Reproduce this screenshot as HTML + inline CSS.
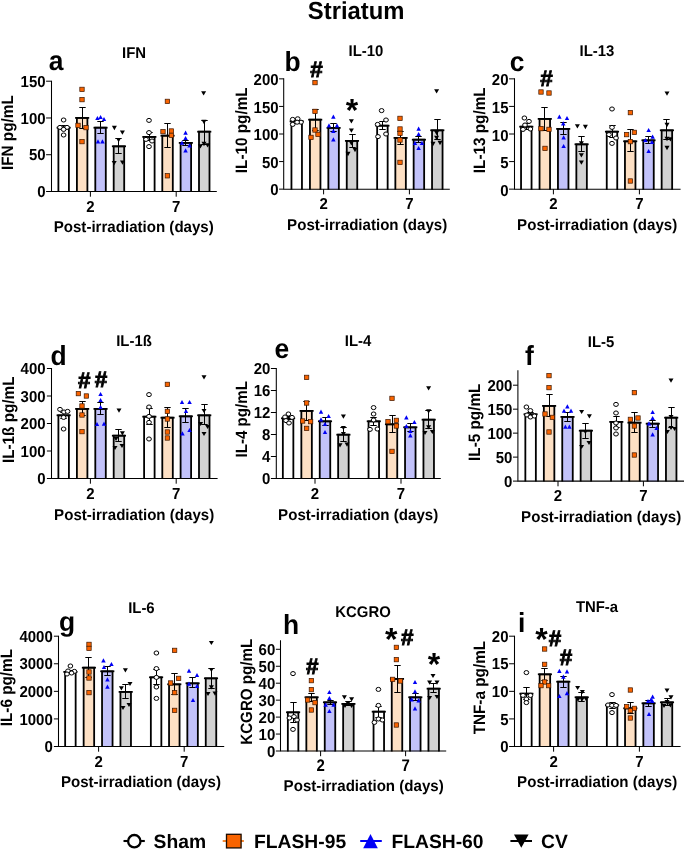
<!DOCTYPE html>
<html lang="en"><head><meta charset="utf-8"><title>Striatum cytokines</title>
<style>html,body{margin:0;padding:0;background:#fff}svg{display:block}</style></head>
<body>
<svg width="685" height="851" viewBox="0 0 685 851" font-family='&quot;Liberation Sans&quot;, sans-serif' font-weight="bold" fill="#000" text-rendering="geometricPrecision">
<rect width="685" height="851" fill="#fff"/>
<defs><filter id="soft" x="0" y="0" width="685" height="851" filterUnits="userSpaceOnUse"><feGaussianBlur stdDeviation="0.4"/></filter></defs>
<g id="bars" filter="url(#soft)">
<path d="M58.40 192.00V127.7H68.90V192.00" fill="#FFFFFF" stroke="#000" stroke-width="1.8"/>
<path d="M56.60 127.7H70.70" stroke="#000" stroke-width="1.75" fill="none"/>
<path d="M76.90 192.00V117.9H87.40V192.00" fill="#FDE0C4" stroke="#000" stroke-width="1.8"/>
<path d="M75.10 117.9H89.20" stroke="#000" stroke-width="1.75" fill="none"/>
<path d="M95.30 192.00V127.7H105.80V192.00" fill="#C2C2FA" stroke="#000" stroke-width="1.8"/>
<path d="M93.50 127.7H107.60" stroke="#000" stroke-width="1.75" fill="none"/>
<path d="M113.70 192.00V146.3H124.20V192.00" fill="#D2D2D2" stroke="#000" stroke-width="1.8"/>
<path d="M111.90 146.3H126.00" stroke="#000" stroke-width="1.75" fill="none"/>
<path d="M144.10 192.00V136.9H154.60V192.00" fill="#FFFFFF" stroke="#000" stroke-width="1.8"/>
<path d="M142.30 136.9H156.40" stroke="#000" stroke-width="1.75" fill="none"/>
<path d="M162.30 192.00V135.7H172.80V192.00" fill="#FDE0C4" stroke="#000" stroke-width="1.8"/>
<path d="M160.50 135.7H174.60" stroke="#000" stroke-width="1.75" fill="none"/>
<path d="M180.60 192.00V142.9H191.10V192.00" fill="#C2C2FA" stroke="#000" stroke-width="1.8"/>
<path d="M178.80 142.9H192.90" stroke="#000" stroke-width="1.75" fill="none"/>
<path d="M199.00 192.00V131.7H209.50V192.00" fill="#D2D2D2" stroke="#000" stroke-width="1.8"/>
<path d="M197.20 131.7H211.30" stroke="#000" stroke-width="1.75" fill="none"/>
<path d="M291.45 189.65V121.3H301.95V189.65" fill="#FFFFFF" stroke="#000" stroke-width="1.8"/>
<path d="M289.65 121.3H303.75" stroke="#000" stroke-width="1.75" fill="none"/>
<path d="M309.95 189.65V119.7H320.45V189.65" fill="#FDE0C4" stroke="#000" stroke-width="1.8"/>
<path d="M308.15 119.7H322.25" stroke="#000" stroke-width="1.75" fill="none"/>
<path d="M328.35 189.65V127.9H338.85V189.65" fill="#C2C2FA" stroke="#000" stroke-width="1.8"/>
<path d="M326.55 127.9H340.65" stroke="#000" stroke-width="1.75" fill="none"/>
<path d="M346.75 189.65V140.9H357.25V189.65" fill="#D2D2D2" stroke="#000" stroke-width="1.8"/>
<path d="M344.95 140.9H359.05" stroke="#000" stroke-width="1.75" fill="none"/>
<path d="M377.15 189.65V125.7H387.65V189.65" fill="#FFFFFF" stroke="#000" stroke-width="1.8"/>
<path d="M375.35 125.7H389.45" stroke="#000" stroke-width="1.75" fill="none"/>
<path d="M395.35 189.65V137.9H405.85V189.65" fill="#FDE0C4" stroke="#000" stroke-width="1.8"/>
<path d="M393.55 137.9H407.65" stroke="#000" stroke-width="1.75" fill="none"/>
<path d="M413.65 189.65V139.7H424.15V189.65" fill="#C2C2FA" stroke="#000" stroke-width="1.8"/>
<path d="M411.85 139.7H425.95" stroke="#000" stroke-width="1.75" fill="none"/>
<path d="M432.05 189.65V130.3H442.55V189.65" fill="#D2D2D2" stroke="#000" stroke-width="1.8"/>
<path d="M430.25 130.3H444.35" stroke="#000" stroke-width="1.75" fill="none"/>
<path d="M521.05 189.65V126.7H531.55V189.65" fill="#FFFFFF" stroke="#000" stroke-width="1.8"/>
<path d="M519.25 126.7H533.35" stroke="#000" stroke-width="1.75" fill="none"/>
<path d="M539.55 189.65V118.9H550.05V189.65" fill="#FDE0C4" stroke="#000" stroke-width="1.8"/>
<path d="M537.75 118.9H551.85" stroke="#000" stroke-width="1.75" fill="none"/>
<path d="M557.95 189.65V128.9H568.45V189.65" fill="#C2C2FA" stroke="#000" stroke-width="1.8"/>
<path d="M556.15 128.9H570.25" stroke="#000" stroke-width="1.75" fill="none"/>
<path d="M576.35 189.65V144.3H586.85V189.65" fill="#D2D2D2" stroke="#000" stroke-width="1.8"/>
<path d="M574.55 144.3H588.65" stroke="#000" stroke-width="1.75" fill="none"/>
<path d="M606.75 189.65V131.7H617.25V189.65" fill="#FFFFFF" stroke="#000" stroke-width="1.8"/>
<path d="M604.95 131.7H619.05" stroke="#000" stroke-width="1.75" fill="none"/>
<path d="M624.95 189.65V141.3H635.45V189.65" fill="#FDE0C4" stroke="#000" stroke-width="1.8"/>
<path d="M623.15 141.3H637.25" stroke="#000" stroke-width="1.75" fill="none"/>
<path d="M643.25 189.65V140.3H653.75V189.65" fill="#C2C2FA" stroke="#000" stroke-width="1.8"/>
<path d="M641.45 140.3H655.55" stroke="#000" stroke-width="1.75" fill="none"/>
<path d="M661.65 189.65V130.3H672.15V189.65" fill="#D2D2D2" stroke="#000" stroke-width="1.8"/>
<path d="M659.85 130.3H673.95" stroke="#000" stroke-width="1.75" fill="none"/>
<path d="M58.40 479.00V415.3H68.90V479.00" fill="#FFFFFF" stroke="#000" stroke-width="1.8"/>
<path d="M56.60 415.3H70.70" stroke="#000" stroke-width="1.75" fill="none"/>
<path d="M76.90 479.00V408.9H87.40V479.00" fill="#FDE0C4" stroke="#000" stroke-width="1.8"/>
<path d="M75.10 408.9H89.20" stroke="#000" stroke-width="1.75" fill="none"/>
<path d="M95.30 479.00V408.9H105.80V479.00" fill="#C2C2FA" stroke="#000" stroke-width="1.8"/>
<path d="M93.50 408.9H107.60" stroke="#000" stroke-width="1.75" fill="none"/>
<path d="M113.70 479.00V435.7H124.20V479.00" fill="#D2D2D2" stroke="#000" stroke-width="1.8"/>
<path d="M111.90 435.7H126.00" stroke="#000" stroke-width="1.75" fill="none"/>
<path d="M144.10 479.00V416.7H154.60V479.00" fill="#FFFFFF" stroke="#000" stroke-width="1.8"/>
<path d="M142.30 416.7H156.40" stroke="#000" stroke-width="1.75" fill="none"/>
<path d="M162.30 479.00V417.7H172.80V479.00" fill="#FDE0C4" stroke="#000" stroke-width="1.8"/>
<path d="M160.50 417.7H174.60" stroke="#000" stroke-width="1.75" fill="none"/>
<path d="M180.60 479.00V416.3H191.10V479.00" fill="#C2C2FA" stroke="#000" stroke-width="1.8"/>
<path d="M178.80 416.3H192.90" stroke="#000" stroke-width="1.75" fill="none"/>
<path d="M199.00 479.00V415.3H209.50V479.00" fill="#D2D2D2" stroke="#000" stroke-width="1.8"/>
<path d="M197.20 415.3H211.30" stroke="#000" stroke-width="1.75" fill="none"/>
<path d="M282.85 479.00V418.3H293.35V479.00" fill="#FFFFFF" stroke="#000" stroke-width="1.8"/>
<path d="M281.05 418.3H295.15" stroke="#000" stroke-width="1.75" fill="none"/>
<path d="M301.35 479.00V410.9H311.85V479.00" fill="#FDE0C4" stroke="#000" stroke-width="1.8"/>
<path d="M299.55 410.9H313.65" stroke="#000" stroke-width="1.75" fill="none"/>
<path d="M319.75 479.00V421.3H330.25V479.00" fill="#C2C2FA" stroke="#000" stroke-width="1.8"/>
<path d="M317.95 421.3H332.05" stroke="#000" stroke-width="1.75" fill="none"/>
<path d="M338.15 479.00V434.7H348.65V479.00" fill="#D2D2D2" stroke="#000" stroke-width="1.8"/>
<path d="M336.35 434.7H350.45" stroke="#000" stroke-width="1.75" fill="none"/>
<path d="M368.55 479.00V421.3H379.05V479.00" fill="#FFFFFF" stroke="#000" stroke-width="1.8"/>
<path d="M366.75 421.3H380.85" stroke="#000" stroke-width="1.75" fill="none"/>
<path d="M386.75 479.00V424.3H397.25V479.00" fill="#FDE0C4" stroke="#000" stroke-width="1.8"/>
<path d="M384.95 424.3H399.05" stroke="#000" stroke-width="1.75" fill="none"/>
<path d="M405.05 479.00V427.3H415.55V479.00" fill="#C2C2FA" stroke="#000" stroke-width="1.8"/>
<path d="M403.25 427.3H417.35" stroke="#000" stroke-width="1.75" fill="none"/>
<path d="M423.45 479.00V419.7H433.95V479.00" fill="#D2D2D2" stroke="#000" stroke-width="1.8"/>
<path d="M421.65 419.7H435.75" stroke="#000" stroke-width="1.75" fill="none"/>
<path d="M525.35 481.60V414.3H535.85V481.60" fill="#FFFFFF" stroke="#000" stroke-width="1.8"/>
<path d="M523.55 414.3H537.65" stroke="#000" stroke-width="1.75" fill="none"/>
<path d="M543.85 481.60V405.9H554.35V481.60" fill="#FDE0C4" stroke="#000" stroke-width="1.8"/>
<path d="M542.05 405.9H556.15" stroke="#000" stroke-width="1.75" fill="none"/>
<path d="M562.25 481.60V416.9H572.75V481.60" fill="#C2C2FA" stroke="#000" stroke-width="1.8"/>
<path d="M560.45 416.9H574.55" stroke="#000" stroke-width="1.75" fill="none"/>
<path d="M580.65 481.60V430.7H591.15V481.60" fill="#D2D2D2" stroke="#000" stroke-width="1.8"/>
<path d="M578.85 430.7H592.95" stroke="#000" stroke-width="1.75" fill="none"/>
<path d="M611.05 481.60V421.9H621.55V481.60" fill="#FFFFFF" stroke="#000" stroke-width="1.8"/>
<path d="M609.25 421.9H623.35" stroke="#000" stroke-width="1.75" fill="none"/>
<path d="M629.25 481.60V422.7H639.75V481.60" fill="#FDE0C4" stroke="#000" stroke-width="1.8"/>
<path d="M627.45 422.7H641.55" stroke="#000" stroke-width="1.75" fill="none"/>
<path d="M647.55 481.60V423.7H658.05V481.60" fill="#C2C2FA" stroke="#000" stroke-width="1.8"/>
<path d="M645.75 423.7H659.85" stroke="#000" stroke-width="1.75" fill="none"/>
<path d="M665.95 481.60V417.7H676.45V481.60" fill="#D2D2D2" stroke="#000" stroke-width="1.8"/>
<path d="M664.15 417.7H678.25" stroke="#000" stroke-width="1.75" fill="none"/>
<path d="M65.15 747.00V671.9H75.65V747.00" fill="#FFFFFF" stroke="#000" stroke-width="1.8"/>
<path d="M63.35 671.9H77.45" stroke="#000" stroke-width="1.75" fill="none"/>
<path d="M83.65 747.00V667.7H94.15V747.00" fill="#FDE0C4" stroke="#000" stroke-width="1.8"/>
<path d="M81.85 667.7H95.95" stroke="#000" stroke-width="1.75" fill="none"/>
<path d="M102.05 747.00V671.3H112.55V747.00" fill="#C2C2FA" stroke="#000" stroke-width="1.8"/>
<path d="M100.25 671.3H114.35" stroke="#000" stroke-width="1.75" fill="none"/>
<path d="M120.45 747.00V691.9H130.95V747.00" fill="#D2D2D2" stroke="#000" stroke-width="1.8"/>
<path d="M118.65 691.9H132.75" stroke="#000" stroke-width="1.75" fill="none"/>
<path d="M150.85 747.00V677.3H161.35V747.00" fill="#FFFFFF" stroke="#000" stroke-width="1.8"/>
<path d="M149.05 677.3H163.15" stroke="#000" stroke-width="1.75" fill="none"/>
<path d="M169.05 747.00V684.3H179.55V747.00" fill="#FDE0C4" stroke="#000" stroke-width="1.8"/>
<path d="M167.25 684.3H181.35" stroke="#000" stroke-width="1.75" fill="none"/>
<path d="M187.35 747.00V683.3H197.85V747.00" fill="#C2C2FA" stroke="#000" stroke-width="1.8"/>
<path d="M185.55 683.3H199.65" stroke="#000" stroke-width="1.75" fill="none"/>
<path d="M205.75 747.00V678.3H216.25V747.00" fill="#D2D2D2" stroke="#000" stroke-width="1.8"/>
<path d="M203.95 678.3H218.05" stroke="#000" stroke-width="1.75" fill="none"/>
<path d="M287.85 751.50V712.3H298.35V751.50" fill="#FFFFFF" stroke="#000" stroke-width="1.8"/>
<path d="M286.05 712.3H300.15" stroke="#000" stroke-width="1.75" fill="none"/>
<path d="M306.35 751.50V697.3H316.85V751.50" fill="#FDE0C4" stroke="#000" stroke-width="1.8"/>
<path d="M304.55 697.3H318.65" stroke="#000" stroke-width="1.75" fill="none"/>
<path d="M324.75 751.50V702.3H335.25V751.50" fill="#C2C2FA" stroke="#000" stroke-width="1.8"/>
<path d="M322.95 702.3H337.05" stroke="#000" stroke-width="1.75" fill="none"/>
<path d="M343.15 751.50V703.9H353.65V751.50" fill="#D2D2D2" stroke="#000" stroke-width="1.8"/>
<path d="M341.35 703.9H355.45" stroke="#000" stroke-width="1.75" fill="none"/>
<path d="M373.55 751.50V711.7H384.05V751.50" fill="#FFFFFF" stroke="#000" stroke-width="1.8"/>
<path d="M371.75 711.7H385.85" stroke="#000" stroke-width="1.75" fill="none"/>
<path d="M391.75 751.50V678.9H402.25V751.50" fill="#FDE0C4" stroke="#000" stroke-width="1.8"/>
<path d="M389.95 678.9H404.05" stroke="#000" stroke-width="1.75" fill="none"/>
<path d="M410.05 751.50V697.3H420.55V751.50" fill="#C2C2FA" stroke="#000" stroke-width="1.8"/>
<path d="M408.25 697.3H422.35" stroke="#000" stroke-width="1.75" fill="none"/>
<path d="M428.45 751.50V688.7H438.95V751.50" fill="#D2D2D2" stroke="#000" stroke-width="1.8"/>
<path d="M426.65 688.7H440.75" stroke="#000" stroke-width="1.75" fill="none"/>
<path d="M521.15 747.00V693.7H531.65V747.00" fill="#FFFFFF" stroke="#000" stroke-width="1.8"/>
<path d="M519.35 693.7H533.45" stroke="#000" stroke-width="1.75" fill="none"/>
<path d="M539.65 747.00V674.3H550.15V747.00" fill="#FDE0C4" stroke="#000" stroke-width="1.8"/>
<path d="M537.85 674.3H551.95" stroke="#000" stroke-width="1.75" fill="none"/>
<path d="M558.05 747.00V681.7H568.55V747.00" fill="#C2C2FA" stroke="#000" stroke-width="1.8"/>
<path d="M556.25 681.7H570.35" stroke="#000" stroke-width="1.75" fill="none"/>
<path d="M576.45 747.00V697.3H586.95V747.00" fill="#D2D2D2" stroke="#000" stroke-width="1.8"/>
<path d="M574.65 697.3H588.75" stroke="#000" stroke-width="1.75" fill="none"/>
<path d="M606.85 747.00V705.3H617.35V747.00" fill="#FFFFFF" stroke="#000" stroke-width="1.8"/>
<path d="M605.05 705.3H619.15" stroke="#000" stroke-width="1.75" fill="none"/>
<path d="M625.05 747.00V708.3H635.55V747.00" fill="#FDE0C4" stroke="#000" stroke-width="1.8"/>
<path d="M623.25 708.3H637.35" stroke="#000" stroke-width="1.75" fill="none"/>
<path d="M643.35 747.00V703.3H653.85V747.00" fill="#C2C2FA" stroke="#000" stroke-width="1.8"/>
<path d="M641.55 703.3H655.65" stroke="#000" stroke-width="1.75" fill="none"/>
<path d="M661.75 747.00V702.3H672.25V747.00" fill="#D2D2D2" stroke="#000" stroke-width="1.8"/>
<path d="M659.95 702.3H674.05" stroke="#000" stroke-width="1.75" fill="none"/>
</g>
<g id="errorbars">
<path d="M63.5 125.5V129.5M60.3 125.5h6.4M60.3 129.5h6.4" stroke="#000" stroke-width="1" fill="none"/>
<path d="M82.5 107.5V128.5M79.3 107.5h6.4M79.3 128.5h6.4" stroke="#000" stroke-width="1" fill="none"/>
<path d="M100.5 121.5V133.5M97.3 121.5h6.4M97.3 133.5h6.4" stroke="#000" stroke-width="1" fill="none"/>
<path d="M118.5 138.5V153.5M115.3 138.5h6.4M115.3 153.5h6.4" stroke="#000" stroke-width="1" fill="none"/>
<path d="M149.5 132.5V140.5M146.3 132.5h6.4M146.3 140.5h6.4" stroke="#000" stroke-width="1" fill="none"/>
<path d="M167.5 123.5V147.5M164.3 123.5h6.4M164.3 147.5h6.4" stroke="#000" stroke-width="1" fill="none"/>
<path d="M185.5 140.5V145.5M182.3 140.5h6.4M182.3 145.5h6.4" stroke="#000" stroke-width="1" fill="none"/>
<path d="M204.5 120.5V144.5M201.3 120.5h6.4M201.3 144.5h6.4" stroke="#000" stroke-width="1" fill="none"/>
<path d="M296.5 119.5V123.5M293.3 119.5h6.4M293.3 123.5h6.4" stroke="#000" stroke-width="1" fill="none"/>
<path d="M315.5 109.5V130.5M312.3 109.5h6.4M312.3 130.5h6.4" stroke="#000" stroke-width="1" fill="none"/>
<path d="M333.5 123.5V131.5M330.3 123.5h6.4M330.3 131.5h6.4" stroke="#000" stroke-width="1" fill="none"/>
<path d="M352.5 134.5V147.5M349.3 134.5h6.4M349.3 147.5h6.4" stroke="#000" stroke-width="1" fill="none"/>
<path d="M382.5 121.5V129.5M379.3 121.5h6.4M379.3 129.5h6.4" stroke="#000" stroke-width="1" fill="none"/>
<path d="M400.5 131.5V144.5M397.3 131.5h6.4M397.3 144.5h6.4" stroke="#000" stroke-width="1" fill="none"/>
<path d="M418.5 136.5V142.5M415.3 136.5h6.4M415.3 142.5h6.4" stroke="#000" stroke-width="1" fill="none"/>
<path d="M437.5 119.5V139.5M434.3 119.5h6.4M434.3 139.5h6.4" stroke="#000" stroke-width="1" fill="none"/>
<path d="M526.5 123.5V129.5M523.3 123.5h6.4M523.3 129.5h6.4" stroke="#000" stroke-width="1" fill="none"/>
<path d="M544.5 107.5V130.5M541.3 107.5h6.4M541.3 130.5h6.4" stroke="#000" stroke-width="1" fill="none"/>
<path d="M563.5 122.5V134.5M560.3 122.5h6.4M560.3 134.5h6.4" stroke="#000" stroke-width="1" fill="none"/>
<path d="M581.5 136.5V151.5M578.3 136.5h6.4M578.3 151.5h6.4" stroke="#000" stroke-width="1" fill="none"/>
<path d="M612.5 125.5V137.5M609.3 125.5h6.4M609.3 137.5h6.4" stroke="#000" stroke-width="1" fill="none"/>
<path d="M630.5 129.5V151.5M627.3 129.5h6.4M627.3 151.5h6.4" stroke="#000" stroke-width="1" fill="none"/>
<path d="M648.5 136.5V143.5M645.3 136.5h6.4M645.3 143.5h6.4" stroke="#000" stroke-width="1" fill="none"/>
<path d="M666.5 119.5V139.5M663.3 119.5h6.4M663.3 139.5h6.4" stroke="#000" stroke-width="1" fill="none"/>
<path d="M63.5 412.5V418.5M60.3 412.5h6.4M60.3 418.5h6.4" stroke="#000" stroke-width="1" fill="none"/>
<path d="M82.5 401.5V415.5M79.3 401.5h6.4M79.3 415.5h6.4" stroke="#000" stroke-width="1" fill="none"/>
<path d="M100.5 402.5V414.5M97.3 402.5h6.4M97.3 414.5h6.4" stroke="#000" stroke-width="1" fill="none"/>
<path d="M118.5 429.5V441.5M115.3 429.5h6.4M115.3 441.5h6.4" stroke="#000" stroke-width="1" fill="none"/>
<path d="M149.5 408.5V424.5M146.3 408.5h6.4M146.3 424.5h6.4" stroke="#000" stroke-width="1" fill="none"/>
<path d="M167.5 407.5V427.5M164.3 407.5h6.4M164.3 427.5h6.4" stroke="#000" stroke-width="1" fill="none"/>
<path d="M185.5 408.5V422.5M182.3 408.5h6.4M182.3 422.5h6.4" stroke="#000" stroke-width="1" fill="none"/>
<path d="M204.5 404.5V424.5M201.3 404.5h6.4M201.3 424.5h6.4" stroke="#000" stroke-width="1" fill="none"/>
<path d="M288.5 416.5V419.5M285.3 416.5h6.4M285.3 419.5h6.4" stroke="#000" stroke-width="1" fill="none"/>
<path d="M306.5 401.5V420.5M303.3 401.5h6.4M303.3 420.5h6.4" stroke="#000" stroke-width="1" fill="none"/>
<path d="M325.5 417.5V425.5M322.3 417.5h6.4M322.3 425.5h6.4" stroke="#000" stroke-width="1" fill="none"/>
<path d="M343.5 427.5V441.5M340.3 427.5h6.4M340.3 441.5h6.4" stroke="#000" stroke-width="1" fill="none"/>
<path d="M373.5 417.5V425.5M370.3 417.5h6.4M370.3 425.5h6.4" stroke="#000" stroke-width="1" fill="none"/>
<path d="M392.5 415.5V432.5M389.3 415.5h6.4M389.3 432.5h6.4" stroke="#000" stroke-width="1" fill="none"/>
<path d="M410.5 423.5V431.5M407.3 423.5h6.4M407.3 431.5h6.4" stroke="#000" stroke-width="1" fill="none"/>
<path d="M428.5 410.5V428.5M425.3 410.5h6.4M425.3 428.5h6.4" stroke="#000" stroke-width="1" fill="none"/>
<path d="M530.5 412.5V416.5M527.3 412.5h6.4M527.3 416.5h6.4" stroke="#000" stroke-width="1" fill="none"/>
<path d="M549.5 394.5V416.5M546.3 394.5h6.4M546.3 416.5h6.4" stroke="#000" stroke-width="1" fill="none"/>
<path d="M567.5 412.5V421.5M564.3 412.5h6.4M564.3 421.5h6.4" stroke="#000" stroke-width="1" fill="none"/>
<path d="M585.5 423.5V438.5M582.3 423.5h6.4M582.3 438.5h6.4" stroke="#000" stroke-width="1" fill="none"/>
<path d="M616.5 416.5V427.5M613.3 416.5h6.4M613.3 427.5h6.4" stroke="#000" stroke-width="1" fill="none"/>
<path d="M634.5 412.5V432.5M631.3 412.5h6.4M631.3 432.5h6.4" stroke="#000" stroke-width="1" fill="none"/>
<path d="M652.5 420.5V427.5M649.3 420.5h6.4M649.3 427.5h6.4" stroke="#000" stroke-width="1" fill="none"/>
<path d="M671.5 407.5V427.5M668.3 407.5h6.4M668.3 427.5h6.4" stroke="#000" stroke-width="1" fill="none"/>
<path d="M70.5 670.5V673.5M67.3 670.5h6.4M67.3 673.5h6.4" stroke="#000" stroke-width="1" fill="none"/>
<path d="M88.5 657.5V677.5M85.3 657.5h6.4M85.3 677.5h6.4" stroke="#000" stroke-width="1" fill="none"/>
<path d="M107.5 666.5V675.5M104.3 666.5h6.4M104.3 675.5h6.4" stroke="#000" stroke-width="1" fill="none"/>
<path d="M125.5 684.5V698.5M122.3 684.5h6.4M122.3 698.5h6.4" stroke="#000" stroke-width="1" fill="none"/>
<path d="M156.5 669.5V684.5M153.3 669.5h6.4M153.3 684.5h6.4" stroke="#000" stroke-width="1" fill="none"/>
<path d="M174.5 673.5V694.5M171.3 673.5h6.4M171.3 694.5h6.4" stroke="#000" stroke-width="1" fill="none"/>
<path d="M192.5 677.5V687.5M189.3 677.5h6.4M189.3 687.5h6.4" stroke="#000" stroke-width="1" fill="none"/>
<path d="M211.5 668.5V688.5M208.3 668.5h6.4M208.3 688.5h6.4" stroke="#000" stroke-width="1" fill="none"/>
<path d="M293.5 702.5V722.5M290.3 702.5h6.4M290.3 722.5h6.4" stroke="#000" stroke-width="1" fill="none"/>
<path d="M311.5 693.5V701.5M308.3 693.5h6.4M308.3 701.5h6.4" stroke="#000" stroke-width="1" fill="none"/>
<path d="M330.5 700.5V704.5M327.3 700.5h6.4M327.3 704.5h6.4" stroke="#000" stroke-width="1" fill="none"/>
<path d="M348.5 701.5V705.5M345.3 701.5h6.4M345.3 705.5h6.4" stroke="#000" stroke-width="1" fill="none"/>
<path d="M378.5 706.5V717.5M375.3 706.5h6.4M375.3 717.5h6.4" stroke="#000" stroke-width="1" fill="none"/>
<path d="M397.5 665.5V692.5M394.3 665.5h6.4M394.3 692.5h6.4" stroke="#000" stroke-width="1" fill="none"/>
<path d="M415.5 693.5V700.5M412.3 693.5h6.4M412.3 700.5h6.4" stroke="#000" stroke-width="1" fill="none"/>
<path d="M433.5 683.5V692.5M430.3 683.5h6.4M430.3 692.5h6.4" stroke="#000" stroke-width="1" fill="none"/>
<path d="M526.5 687.5V699.5M523.3 687.5h6.4M523.3 699.5h6.4" stroke="#000" stroke-width="1" fill="none"/>
<path d="M544.5 668.5V680.5M541.3 668.5h6.4M541.3 680.5h6.4" stroke="#000" stroke-width="1" fill="none"/>
<path d="M563.5 676.5V687.5M560.3 676.5h6.4M560.3 687.5h6.4" stroke="#000" stroke-width="1" fill="none"/>
<path d="M581.5 692.5V701.5M578.3 692.5h6.4M578.3 701.5h6.4" stroke="#000" stroke-width="1" fill="none"/>
<path d="M612.5 702.5V708.5M609.3 702.5h6.4M609.3 708.5h6.4" stroke="#000" stroke-width="1" fill="none"/>
<path d="M630.5 702.5V713.5M627.3 702.5h6.4M627.3 713.5h6.4" stroke="#000" stroke-width="1" fill="none"/>
<path d="M648.5 700.5V706.5M645.3 700.5h6.4M645.3 706.5h6.4" stroke="#000" stroke-width="1" fill="none"/>
<path d="M667.5 698.5V705.5M664.3 698.5h6.4M664.3 705.5h6.4" stroke="#000" stroke-width="1" fill="none"/>
</g>
<g filter="url(#soft)">
<text transform="translate(356.20 18.80) scale(0.9709 1)" font-size="24.57" text-anchor="middle">Striatum</text>
<g id="panel-a">
<ellipse cx="63.6" cy="120.0" rx="2.35" ry="2.05" fill="#fff" stroke="#000" stroke-width="1"/>
<ellipse cx="60.0" cy="127.4" rx="2.35" ry="2.05" fill="#fff" stroke="#000" stroke-width="1"/>
<ellipse cx="67.0" cy="127.4" rx="2.35" ry="2.05" fill="#fff" stroke="#000" stroke-width="1"/>
<ellipse cx="63.6" cy="129.4" rx="2.35" ry="2.05" fill="#fff" stroke="#000" stroke-width="1"/>
<ellipse cx="63.6" cy="135.0" rx="2.35" ry="2.05" fill="#fff" stroke="#000" stroke-width="1"/>
<rect x="79.8" y="87.2" width="4.4" height="4.4" fill="#FA6400" stroke="#3a1800" stroke-width="0.7"/>
<rect x="79.8" y="97.4" width="4.4" height="4.4" fill="#FA6400" stroke="#3a1800" stroke-width="0.7"/>
<rect x="75.8" y="123.2" width="4.4" height="4.4" fill="#FA6400" stroke="#3a1800" stroke-width="0.7"/>
<rect x="83.8" y="125.4" width="4.4" height="4.4" fill="#FA6400" stroke="#3a1800" stroke-width="0.7"/>
<rect x="79.8" y="139.4" width="4.4" height="4.4" fill="#FA6400" stroke="#3a1800" stroke-width="0.7"/>
<path d="M97.4 115.9L99.7 120.1L95.2 120.1Z" fill="#0000F5"/>
<path d="M100.6 114.9L102.8 119.1L98.3 119.1Z" fill="#0000F5"/>
<path d="M104.0 116.9L106.2 121.1L101.8 121.1Z" fill="#0000F5"/>
<path d="M98.0 139.3L100.2 143.5L95.8 143.5Z" fill="#0000F5"/>
<path d="M102.4 139.3L104.7 143.5L100.2 143.5Z" fill="#0000F5"/>
<path d="M114.4 130.2L116.9 125.8L111.9 125.8Z" fill="#000"/>
<path d="M122.4 134.8L124.9 130.4L119.9 130.4Z" fill="#000"/>
<path d="M118.6 142.3L121.1 138.0L116.1 138.0Z" fill="#000"/>
<path d="M114.2 165.3L116.7 161.0L111.7 161.0Z" fill="#000"/>
<path d="M122.5 164.8L125.0 160.4L120.0 160.4Z" fill="#000"/>
<ellipse cx="149.0" cy="120.4" rx="2.35" ry="2.05" fill="#fff" stroke="#000" stroke-width="1"/>
<ellipse cx="149.0" cy="132.6" rx="2.35" ry="2.05" fill="#fff" stroke="#000" stroke-width="1"/>
<ellipse cx="146.0" cy="139.4" rx="2.35" ry="2.05" fill="#fff" stroke="#000" stroke-width="1"/>
<ellipse cx="152.0" cy="141.0" rx="2.35" ry="2.05" fill="#fff" stroke="#000" stroke-width="1"/>
<ellipse cx="149.0" cy="146.6" rx="2.35" ry="2.05" fill="#fff" stroke="#000" stroke-width="1"/>
<rect x="165.2" y="99.2" width="4.4" height="4.4" fill="#FA6400" stroke="#3a1800" stroke-width="0.7"/>
<rect x="160.8" y="129.4" width="4.4" height="4.4" fill="#FA6400" stroke="#3a1800" stroke-width="0.7"/>
<rect x="169.2" y="128.8" width="4.4" height="4.4" fill="#FA6400" stroke="#3a1800" stroke-width="0.7"/>
<rect x="169.2" y="133.2" width="4.4" height="4.4" fill="#FA6400" stroke="#3a1800" stroke-width="0.7"/>
<rect x="165.2" y="173.6" width="4.4" height="4.4" fill="#FA6400" stroke="#3a1800" stroke-width="0.7"/>
<path d="M185.6 130.5L187.8 134.7L183.3 134.7Z" fill="#0000F5"/>
<path d="M185.6 135.9L187.8 140.1L183.3 140.1Z" fill="#0000F5"/>
<path d="M182.0 140.5L184.2 144.7L179.8 144.7Z" fill="#0000F5"/>
<path d="M189.6 143.3L191.8 147.5L187.3 147.5Z" fill="#0000F5"/>
<path d="M185.6 148.3L187.8 152.5L183.3 152.5Z" fill="#0000F5"/>
<path d="M203.6 95.6L206.1 91.2L201.1 91.2Z" fill="#000"/>
<path d="M204.0 124.2L206.5 119.8L201.5 119.8Z" fill="#000"/>
<path d="M204.0 146.2L206.5 141.8L201.5 141.8Z" fill="#000"/>
<path d="M200.4 148.6L202.9 144.2L197.9 144.2Z" fill="#000"/>
<path d="M207.6 147.6L210.1 143.2L205.1 143.2Z" fill="#000"/>
<text transform="translate(45.60 197.10) scale(0.9434 1)" font-size="15.90" text-anchor="end">0</text>
<text transform="translate(45.60 160.33) scale(0.9434 1)" font-size="15.90" text-anchor="end">50</text>
<text transform="translate(45.60 123.57) scale(0.9434 1)" font-size="15.90" text-anchor="end">100</text>
<text transform="translate(45.60 86.80) scale(0.9434 1)" font-size="15.90" text-anchor="end">150</text>
<text transform="translate(90.40 211.70) scale(0.9434 1)" font-size="15.90" text-anchor="middle">2</text>
<text transform="translate(176.20 211.70) scale(0.9434 1)" font-size="15.90" text-anchor="middle">7</text>
<text transform="translate(133.75 232.00) scale(0.9615 1)" font-size="15.70" text-anchor="middle">Post-irradiation (days)</text>
<text transform="translate(134.00 57.80) scale(0.9615 1)" font-size="15.50" text-anchor="middle">IFN</text>
<text transform="translate(48.80 70.00) scale(0.9615 1)" font-size="27.46">a</text>
<text transform="translate(12.60 132.65) rotate(-90) scale(0.9259 1)" font-size="16.52" text-anchor="middle">IFN pg/mL</text>
</g>
<g id="panel-b">
<ellipse cx="292.7" cy="119.4" rx="2.35" ry="2.05" fill="#fff" stroke="#000" stroke-width="1"/>
<ellipse cx="297.7" cy="118.8" rx="2.35" ry="2.05" fill="#fff" stroke="#000" stroke-width="1"/>
<ellipse cx="301.0" cy="122.2" rx="2.35" ry="2.05" fill="#fff" stroke="#000" stroke-width="1"/>
<ellipse cx="292.7" cy="124.4" rx="2.35" ry="2.05" fill="#fff" stroke="#000" stroke-width="1"/>
<ellipse cx="297.1" cy="122.2" rx="2.35" ry="2.05" fill="#fff" stroke="#000" stroke-width="1"/>
<rect x="312.8" y="80.4" width="4.4" height="4.4" fill="#FA6400" stroke="#3a1800" stroke-width="0.7"/>
<rect x="312.8" y="109.2" width="4.4" height="4.4" fill="#FA6400" stroke="#3a1800" stroke-width="0.7"/>
<rect x="312.8" y="127.8" width="4.4" height="4.4" fill="#FA6400" stroke="#3a1800" stroke-width="0.7"/>
<rect x="315.8" y="132.2" width="4.4" height="4.4" fill="#FA6400" stroke="#3a1800" stroke-width="0.7"/>
<rect x="308.8" y="135.2" width="4.4" height="4.4" fill="#FA6400" stroke="#3a1800" stroke-width="0.7"/>
<path d="M333.4 114.5L335.6 118.7L331.1 118.7Z" fill="#0000F5"/>
<path d="M329.0 123.3L331.2 127.5L326.8 127.5Z" fill="#0000F5"/>
<path d="M337.0 123.3L339.2 127.5L334.8 127.5Z" fill="#0000F5"/>
<path d="M333.4 128.9L335.6 133.1L331.1 133.1Z" fill="#0000F5"/>
<path d="M333.4 137.3L335.6 141.5L331.1 141.5Z" fill="#0000F5"/>
<path d="M351.4 123.6L353.9 119.2L348.9 119.2Z" fill="#000"/>
<path d="M351.4 132.8L353.9 128.4L348.9 128.4Z" fill="#000"/>
<path d="M351.4 145.6L353.9 141.2L348.9 141.2Z" fill="#000"/>
<path d="M348.0 156.2L350.5 151.8L345.5 151.8Z" fill="#000"/>
<path d="M355.0 152.2L357.5 147.8L352.5 147.8Z" fill="#000"/>
<ellipse cx="381.6" cy="110.6" rx="2.35" ry="2.05" fill="#fff" stroke="#000" stroke-width="1"/>
<ellipse cx="386.0" cy="120.0" rx="2.35" ry="2.05" fill="#fff" stroke="#000" stroke-width="1"/>
<ellipse cx="377.6" cy="124.4" rx="2.35" ry="2.05" fill="#fff" stroke="#000" stroke-width="1"/>
<ellipse cx="386.0" cy="134.0" rx="2.35" ry="2.05" fill="#fff" stroke="#000" stroke-width="1"/>
<ellipse cx="378.0" cy="136.6" rx="2.35" ry="2.05" fill="#fff" stroke="#000" stroke-width="1"/>
<rect x="397.8" y="116.2" width="4.4" height="4.4" fill="#FA6400" stroke="#3a1800" stroke-width="0.7"/>
<rect x="397.8" y="126.8" width="4.4" height="4.4" fill="#FA6400" stroke="#3a1800" stroke-width="0.7"/>
<rect x="397.8" y="131.2" width="4.4" height="4.4" fill="#FA6400" stroke="#3a1800" stroke-width="0.7"/>
<rect x="397.8" y="137.8" width="4.4" height="4.4" fill="#FA6400" stroke="#3a1800" stroke-width="0.7"/>
<rect x="397.8" y="160.2" width="4.4" height="4.4" fill="#FA6400" stroke="#3a1800" stroke-width="0.7"/>
<path d="M418.6 126.5L420.9 130.7L416.4 130.7Z" fill="#0000F5"/>
<path d="M418.6 131.9L420.9 136.1L416.4 136.1Z" fill="#0000F5"/>
<path d="M415.0 140.9L417.2 145.1L412.8 145.1Z" fill="#0000F5"/>
<path d="M422.0 140.9L424.2 145.1L419.8 145.1Z" fill="#0000F5"/>
<path d="M418.6 145.9L420.9 150.1L416.4 150.1Z" fill="#0000F5"/>
<path d="M436.6 93.6L439.1 89.2L434.1 89.2Z" fill="#000"/>
<path d="M436.6 135.2L439.1 130.8L434.1 130.8Z" fill="#000"/>
<path d="M436.6 140.2L439.1 135.8L434.1 135.8Z" fill="#000"/>
<path d="M433.0 146.2L435.5 141.8L430.5 141.8Z" fill="#000"/>
<path d="M440.0 145.2L442.5 140.8L437.5 140.8Z" fill="#000"/>
<text transform="translate(278.60 195.45) scale(0.9434 1)" font-size="15.90" text-anchor="end">0</text>
<text transform="translate(278.60 167.87) scale(0.9434 1)" font-size="15.90" text-anchor="end">50</text>
<text transform="translate(278.60 140.30) scale(0.9434 1)" font-size="15.90" text-anchor="end">100</text>
<text transform="translate(278.60 112.73) scale(0.9434 1)" font-size="15.90" text-anchor="end">150</text>
<text transform="translate(278.60 85.15) scale(0.9434 1)" font-size="15.90" text-anchor="end">200</text>
<text transform="translate(323.60 209.35) scale(0.9434 1)" font-size="15.90" text-anchor="middle">2</text>
<text transform="translate(409.40 209.35) scale(0.9434 1)" font-size="15.90" text-anchor="middle">7</text>
<text transform="translate(367.15 230.35) scale(0.9615 1)" font-size="15.70" text-anchor="middle">Post-irradiation (days)</text>
<text transform="translate(366.00 56.30) scale(0.9615 1)" font-size="15.50" text-anchor="middle">IL-10</text>
<text transform="translate(284.60 71.40) scale(0.9615 1)" font-size="27.46">b</text>
<text transform="translate(246.60 130.30) rotate(-90) scale(0.9259 1)" font-size="16.52" text-anchor="middle">IL-10 pg/mL</text>
<text transform="translate(316.60 77.20) scale(1.0000 1)" font-size="22.50" text-anchor="middle" stroke="#000" stroke-width="0.85">#</text>
<text transform="translate(352.00 120.80) scale(1.0000 1)" font-size="32.00" text-anchor="middle">*</text>
</g>
<g id="panel-c">
<ellipse cx="524.4" cy="118.0" rx="2.35" ry="2.05" fill="#fff" stroke="#000" stroke-width="1"/>
<ellipse cx="529.0" cy="121.4" rx="2.35" ry="2.05" fill="#fff" stroke="#000" stroke-width="1"/>
<ellipse cx="525.0" cy="125.0" rx="2.35" ry="2.05" fill="#fff" stroke="#000" stroke-width="1"/>
<ellipse cx="523.0" cy="129.4" rx="2.35" ry="2.05" fill="#fff" stroke="#000" stroke-width="1"/>
<ellipse cx="530.4" cy="129.0" rx="2.35" ry="2.05" fill="#fff" stroke="#000" stroke-width="1"/>
<rect x="538.8" y="89.8" width="4.4" height="4.4" fill="#FA6400" stroke="#3a1800" stroke-width="0.7"/>
<rect x="546.8" y="90.8" width="4.4" height="4.4" fill="#FA6400" stroke="#3a1800" stroke-width="0.7"/>
<rect x="538.8" y="126.4" width="4.4" height="4.4" fill="#FA6400" stroke="#3a1800" stroke-width="0.7"/>
<rect x="546.8" y="127.2" width="4.4" height="4.4" fill="#FA6400" stroke="#3a1800" stroke-width="0.7"/>
<rect x="542.8" y="146.2" width="4.4" height="4.4" fill="#FA6400" stroke="#3a1800" stroke-width="0.7"/>
<path d="M559.4 114.5L561.6 118.7L557.1 118.7Z" fill="#0000F5"/>
<path d="M567.0 115.9L569.2 120.1L564.8 120.1Z" fill="#0000F5"/>
<path d="M563.2 121.3L565.5 125.5L561.0 125.5Z" fill="#0000F5"/>
<path d="M563.6 135.3L565.9 139.5L561.4 139.5Z" fill="#0000F5"/>
<path d="M563.6 143.9L565.9 148.1L561.4 148.1Z" fill="#0000F5"/>
<path d="M577.4 128.6L579.9 124.2L574.9 124.2Z" fill="#000"/>
<path d="M585.4 129.2L587.9 124.8L582.9 124.8Z" fill="#000"/>
<path d="M581.4 145.6L583.9 141.2L578.9 141.2Z" fill="#000"/>
<path d="M581.4 157.6L583.9 153.2L578.9 153.2Z" fill="#000"/>
<path d="M581.4 164.8L583.9 160.4L578.9 160.4Z" fill="#000"/>
<ellipse cx="612.0" cy="109.0" rx="2.35" ry="2.05" fill="#fff" stroke="#000" stroke-width="1"/>
<ellipse cx="612.0" cy="127.4" rx="2.35" ry="2.05" fill="#fff" stroke="#000" stroke-width="1"/>
<ellipse cx="609.0" cy="134.6" rx="2.35" ry="2.05" fill="#fff" stroke="#000" stroke-width="1"/>
<ellipse cx="616.0" cy="138.0" rx="2.35" ry="2.05" fill="#fff" stroke="#000" stroke-width="1"/>
<ellipse cx="612.0" cy="143.4" rx="2.35" ry="2.05" fill="#fff" stroke="#000" stroke-width="1"/>
<rect x="628.2" y="110.4" width="4.4" height="4.4" fill="#FA6400" stroke="#3a1800" stroke-width="0.7"/>
<rect x="624.4" y="132.4" width="4.4" height="4.4" fill="#FA6400" stroke="#3a1800" stroke-width="0.7"/>
<rect x="632.2" y="130.2" width="4.4" height="4.4" fill="#FA6400" stroke="#3a1800" stroke-width="0.7"/>
<rect x="628.2" y="139.4" width="4.4" height="4.4" fill="#FA6400" stroke="#3a1800" stroke-width="0.7"/>
<rect x="628.2" y="178.8" width="4.4" height="4.4" fill="#FA6400" stroke="#3a1800" stroke-width="0.7"/>
<path d="M648.6 127.9L650.9 132.1L646.4 132.1Z" fill="#0000F5"/>
<path d="M652.6 134.5L654.9 138.7L650.4 138.7Z" fill="#0000F5"/>
<path d="M645.4 137.9L647.6 142.1L643.1 142.1Z" fill="#0000F5"/>
<path d="M652.0 139.9L654.2 144.1L649.8 144.1Z" fill="#0000F5"/>
<path d="M648.6 148.9L650.9 153.1L646.4 153.1Z" fill="#0000F5"/>
<path d="M667.0 95.8L669.5 91.4L664.5 91.4Z" fill="#000"/>
<path d="M667.0 127.2L669.5 122.8L664.5 122.8Z" fill="#000"/>
<path d="M667.0 141.2L669.5 136.8L664.5 136.8Z" fill="#000"/>
<path d="M670.4 141.6L672.9 137.2L667.9 137.2Z" fill="#000"/>
<path d="M667.0 150.2L669.5 145.8L664.5 145.8Z" fill="#000"/>
<text transform="translate(508.50 195.65) scale(0.9434 1)" font-size="15.90" text-anchor="end">0</text>
<text transform="translate(508.50 168.08) scale(0.9434 1)" font-size="15.90" text-anchor="end">5</text>
<text transform="translate(508.50 140.50) scale(0.9434 1)" font-size="15.90" text-anchor="end">10</text>
<text transform="translate(508.50 112.92) scale(0.9434 1)" font-size="15.90" text-anchor="end">15</text>
<text transform="translate(508.50 85.35) scale(0.9434 1)" font-size="15.90" text-anchor="end">20</text>
<text transform="translate(553.40 209.35) scale(0.9434 1)" font-size="15.90" text-anchor="middle">2</text>
<text transform="translate(639.40 209.35) scale(0.9434 1)" font-size="15.90" text-anchor="middle">7</text>
<text transform="translate(597.15 230.35) scale(0.9615 1)" font-size="15.70" text-anchor="middle">Post-irradiation (days)</text>
<text transform="translate(597.00 56.30) scale(0.9615 1)" font-size="15.50" text-anchor="middle">IL-13</text>
<text transform="translate(509.70 71.40) scale(0.9615 1)" font-size="27.46">c</text>
<text transform="translate(485.00 130.30) rotate(-90) scale(0.9259 1)" font-size="16.52" text-anchor="middle">IL-13 pg/mL</text>
<text transform="translate(546.50 86.10) scale(1.0000 1)" font-size="22.50" text-anchor="middle" stroke="#000" stroke-width="0.85">#</text>
</g>
<g id="panel-d">
<ellipse cx="60.0" cy="409.4" rx="2.35" ry="2.05" fill="#fff" stroke="#000" stroke-width="1"/>
<ellipse cx="64.0" cy="412.0" rx="2.35" ry="2.05" fill="#fff" stroke="#000" stroke-width="1"/>
<ellipse cx="67.6" cy="411.4" rx="2.35" ry="2.05" fill="#fff" stroke="#000" stroke-width="1"/>
<ellipse cx="63.6" cy="417.4" rx="2.35" ry="2.05" fill="#fff" stroke="#000" stroke-width="1"/>
<ellipse cx="63.6" cy="429.0" rx="2.35" ry="2.05" fill="#fff" stroke="#000" stroke-width="1"/>
<rect x="76.2" y="391.4" width="4.4" height="4.4" fill="#FA6400" stroke="#3a1800" stroke-width="0.7"/>
<rect x="84.2" y="393.8" width="4.4" height="4.4" fill="#FA6400" stroke="#3a1800" stroke-width="0.7"/>
<rect x="79.8" y="403.8" width="4.4" height="4.4" fill="#FA6400" stroke="#3a1800" stroke-width="0.7"/>
<rect x="79.8" y="412.8" width="4.4" height="4.4" fill="#FA6400" stroke="#3a1800" stroke-width="0.7"/>
<rect x="79.8" y="429.4" width="4.4" height="4.4" fill="#FA6400" stroke="#3a1800" stroke-width="0.7"/>
<path d="M100.6 391.9L102.8 396.1L98.3 396.1Z" fill="#0000F5"/>
<path d="M100.6 397.9L102.8 402.1L98.3 402.1Z" fill="#0000F5"/>
<path d="M100.6 404.9L102.8 409.1L98.3 409.1Z" fill="#0000F5"/>
<path d="M97.0 421.9L99.2 426.1L94.8 426.1Z" fill="#0000F5"/>
<path d="M104.0 421.5L106.2 425.7L101.8 425.7Z" fill="#0000F5"/>
<path d="M119.0 412.8L121.5 408.5L116.5 408.5Z" fill="#000"/>
<path d="M122.4 435.5L124.9 431.2L119.9 431.2Z" fill="#000"/>
<path d="M116.0 441.1L118.5 436.9L113.5 436.9Z" fill="#000"/>
<path d="M115.0 450.1L117.5 445.9L112.5 445.9Z" fill="#000"/>
<path d="M122.0 448.1L124.5 443.9L119.5 443.9Z" fill="#000"/>
<ellipse cx="149.0" cy="394.6" rx="2.35" ry="2.05" fill="#fff" stroke="#000" stroke-width="1"/>
<ellipse cx="149.0" cy="407.0" rx="2.35" ry="2.05" fill="#fff" stroke="#000" stroke-width="1"/>
<ellipse cx="149.0" cy="416.4" rx="2.35" ry="2.05" fill="#fff" stroke="#000" stroke-width="1"/>
<ellipse cx="149.0" cy="422.4" rx="2.35" ry="2.05" fill="#fff" stroke="#000" stroke-width="1"/>
<ellipse cx="149.0" cy="439.0" rx="2.35" ry="2.05" fill="#fff" stroke="#000" stroke-width="1"/>
<rect x="165.2" y="382.2" width="4.4" height="4.4" fill="#FA6400" stroke="#3a1800" stroke-width="0.7"/>
<rect x="165.2" y="409.2" width="4.4" height="4.4" fill="#FA6400" stroke="#3a1800" stroke-width="0.7"/>
<rect x="165.2" y="416.8" width="4.4" height="4.4" fill="#FA6400" stroke="#3a1800" stroke-width="0.7"/>
<rect x="165.2" y="429.8" width="4.4" height="4.4" fill="#FA6400" stroke="#3a1800" stroke-width="0.7"/>
<rect x="165.2" y="435.8" width="4.4" height="4.4" fill="#FA6400" stroke="#3a1800" stroke-width="0.7"/>
<path d="M182.0 399.9L184.2 404.1L179.8 404.1Z" fill="#0000F5"/>
<path d="M189.6 399.9L191.8 404.1L187.3 404.1Z" fill="#0000F5"/>
<path d="M186.0 408.9L188.2 413.1L183.8 413.1Z" fill="#0000F5"/>
<path d="M182.4 431.3L184.7 435.5L180.2 435.5Z" fill="#0000F5"/>
<path d="M189.6 427.9L191.8 432.1L187.3 432.1Z" fill="#0000F5"/>
<path d="M204.0 379.5L206.5 375.2L201.5 375.2Z" fill="#000"/>
<path d="M204.0 413.1L206.5 408.9L201.5 408.9Z" fill="#000"/>
<path d="M200.6 426.1L203.1 421.9L198.1 421.9Z" fill="#000"/>
<path d="M207.6 429.1L210.1 424.9L205.1 424.9Z" fill="#000"/>
<path d="M204.0 436.1L206.5 431.9L201.5 431.9Z" fill="#000"/>
<text transform="translate(45.60 484.40) scale(0.9434 1)" font-size="15.90" text-anchor="end">0</text>
<text transform="translate(45.60 456.90) scale(0.9434 1)" font-size="15.90" text-anchor="end">100</text>
<text transform="translate(45.60 429.40) scale(0.9434 1)" font-size="15.90" text-anchor="end">200</text>
<text transform="translate(45.60 401.90) scale(0.9434 1)" font-size="15.90" text-anchor="end">300</text>
<text transform="translate(45.60 374.40) scale(0.9434 1)" font-size="15.90" text-anchor="end">400</text>
<text transform="translate(90.40 498.70) scale(0.9434 1)" font-size="15.90" text-anchor="middle">2</text>
<text transform="translate(176.20 498.70) scale(0.9434 1)" font-size="15.90" text-anchor="middle">7</text>
<text transform="translate(134.15 520.20) scale(0.9615 1)" font-size="15.70" text-anchor="middle">Post-irradiation (days)</text>
<text transform="translate(134.00 346.30) scale(0.9615 1)" font-size="15.50" text-anchor="middle">IL-1ß</text>
<text transform="translate(50.60 364.50) scale(0.9615 1)" font-size="27.46">d</text>
<text transform="translate(14.40 419.80) rotate(-90) scale(0.9259 1)" font-size="16.52" text-anchor="middle">IL-1ß pg/mL</text>
<text transform="translate(84.30 388.00) scale(1.0000 1)" font-size="22.50" text-anchor="middle" stroke="#000" stroke-width="0.85">#</text>
<text transform="translate(101.10 386.50) scale(1.0000 1)" font-size="22.50" text-anchor="middle" stroke="#000" stroke-width="0.85">#</text>
</g>
<g id="panel-e">
<ellipse cx="288.4" cy="414.0" rx="2.35" ry="2.05" fill="#fff" stroke="#000" stroke-width="1"/>
<ellipse cx="285.0" cy="417.0" rx="2.35" ry="2.05" fill="#fff" stroke="#000" stroke-width="1"/>
<ellipse cx="292.0" cy="417.4" rx="2.35" ry="2.05" fill="#fff" stroke="#000" stroke-width="1"/>
<ellipse cx="286.0" cy="420.6" rx="2.35" ry="2.05" fill="#fff" stroke="#000" stroke-width="1"/>
<ellipse cx="289.0" cy="423.0" rx="2.35" ry="2.05" fill="#fff" stroke="#000" stroke-width="1"/>
<rect x="304.4" y="375.2" width="4.4" height="4.4" fill="#FA6400" stroke="#3a1800" stroke-width="0.7"/>
<rect x="304.4" y="400.8" width="4.4" height="4.4" fill="#FA6400" stroke="#3a1800" stroke-width="0.7"/>
<rect x="300.4" y="418.8" width="4.4" height="4.4" fill="#FA6400" stroke="#3a1800" stroke-width="0.7"/>
<rect x="308.4" y="419.4" width="4.4" height="4.4" fill="#FA6400" stroke="#3a1800" stroke-width="0.7"/>
<rect x="304.4" y="426.2" width="4.4" height="4.4" fill="#FA6400" stroke="#3a1800" stroke-width="0.7"/>
<path d="M321.0 409.5L323.2 413.7L318.8 413.7Z" fill="#0000F5"/>
<path d="M328.6 413.9L330.9 418.1L326.4 418.1Z" fill="#0000F5"/>
<path d="M321.0 417.3L323.2 421.5L318.8 421.5Z" fill="#0000F5"/>
<path d="M325.0 421.9L327.2 426.1L322.8 426.1Z" fill="#0000F5"/>
<path d="M325.0 429.9L327.2 434.1L322.8 434.1Z" fill="#0000F5"/>
<path d="M343.4 418.8L345.9 414.5L340.9 414.5Z" fill="#000"/>
<path d="M343.4 430.1L345.9 425.9L340.9 425.9Z" fill="#000"/>
<path d="M343.4 436.1L345.9 431.9L340.9 431.9Z" fill="#000"/>
<path d="M340.0 447.5L342.5 443.2L337.5 443.2Z" fill="#000"/>
<path d="M347.0 446.8L349.5 442.5L344.5 442.5Z" fill="#000"/>
<ellipse cx="373.6" cy="407.6" rx="2.35" ry="2.05" fill="#fff" stroke="#000" stroke-width="1"/>
<ellipse cx="373.6" cy="414.0" rx="2.35" ry="2.05" fill="#fff" stroke="#000" stroke-width="1"/>
<ellipse cx="373.6" cy="420.0" rx="2.35" ry="2.05" fill="#fff" stroke="#000" stroke-width="1"/>
<ellipse cx="370.0" cy="429.4" rx="2.35" ry="2.05" fill="#fff" stroke="#000" stroke-width="1"/>
<ellipse cx="377.4" cy="429.0" rx="2.35" ry="2.05" fill="#fff" stroke="#000" stroke-width="1"/>
<rect x="389.8" y="396.2" width="4.4" height="4.4" fill="#FA6400" stroke="#3a1800" stroke-width="0.7"/>
<rect x="385.8" y="419.4" width="4.4" height="4.4" fill="#FA6400" stroke="#3a1800" stroke-width="0.7"/>
<rect x="394.2" y="418.2" width="4.4" height="4.4" fill="#FA6400" stroke="#3a1800" stroke-width="0.7"/>
<rect x="394.2" y="423.8" width="4.4" height="4.4" fill="#FA6400" stroke="#3a1800" stroke-width="0.7"/>
<rect x="389.8" y="449.2" width="4.4" height="4.4" fill="#FA6400" stroke="#3a1800" stroke-width="0.7"/>
<path d="M406.4 415.3L408.6 419.5L404.1 419.5Z" fill="#0000F5"/>
<path d="M414.4 419.9L416.6 424.1L412.1 424.1Z" fill="#0000F5"/>
<path d="M406.4 423.9L408.6 428.1L404.1 428.1Z" fill="#0000F5"/>
<path d="M410.4 428.9L412.6 433.1L408.1 433.1Z" fill="#0000F5"/>
<path d="M410.4 433.3L412.6 437.5L408.1 437.5Z" fill="#0000F5"/>
<path d="M428.6 390.5L431.1 386.2L426.1 386.2Z" fill="#000"/>
<path d="M428.6 413.5L431.1 409.2L426.1 409.2Z" fill="#000"/>
<path d="M428.6 429.5L431.1 425.2L426.1 425.2Z" fill="#000"/>
<path d="M425.0 435.1L427.5 430.9L422.5 430.9Z" fill="#000"/>
<path d="M432.4 434.1L434.9 429.9L429.9 429.9Z" fill="#000"/>
<text transform="translate(270.40 484.40) scale(0.9434 1)" font-size="15.90" text-anchor="end">0</text>
<text transform="translate(270.40 462.40) scale(0.9434 1)" font-size="15.90" text-anchor="end">4</text>
<text transform="translate(270.40 440.40) scale(0.9434 1)" font-size="15.90" text-anchor="end">8</text>
<text transform="translate(270.40 418.40) scale(0.9434 1)" font-size="15.90" text-anchor="end">12</text>
<text transform="translate(270.40 396.40) scale(0.9434 1)" font-size="15.90" text-anchor="end">16</text>
<text transform="translate(270.40 374.40) scale(0.9434 1)" font-size="15.90" text-anchor="end">20</text>
<text transform="translate(315.00 498.70) scale(0.9434 1)" font-size="15.90" text-anchor="middle">2</text>
<text transform="translate(401.00 498.70) scale(0.9434 1)" font-size="15.90" text-anchor="middle">7</text>
<text transform="translate(358.15 519.80) scale(0.9615 1)" font-size="15.70" text-anchor="middle">Post-irradiation (days)</text>
<text transform="translate(358.00 346.30) scale(0.9615 1)" font-size="15.50" text-anchor="middle">IL-4</text>
<text transform="translate(274.40 358.40) scale(0.9615 1)" font-size="27.46">e</text>
<text transform="translate(246.90 419.30) rotate(-90) scale(0.9259 1)" font-size="16.31" text-anchor="middle">IL-4 pg/mL</text>
</g>
<g id="panel-f">
<ellipse cx="526.4" cy="407.0" rx="2.35" ry="2.05" fill="#fff" stroke="#000" stroke-width="1"/>
<ellipse cx="530.4" cy="410.6" rx="2.35" ry="2.05" fill="#fff" stroke="#000" stroke-width="1"/>
<ellipse cx="527.0" cy="415.0" rx="2.35" ry="2.05" fill="#fff" stroke="#000" stroke-width="1"/>
<ellipse cx="530.4" cy="417.0" rx="2.35" ry="2.05" fill="#fff" stroke="#000" stroke-width="1"/>
<ellipse cx="534.4" cy="416.0" rx="2.35" ry="2.05" fill="#fff" stroke="#000" stroke-width="1"/>
<rect x="546.8" y="373.4" width="4.4" height="4.4" fill="#FA6400" stroke="#3a1800" stroke-width="0.7"/>
<rect x="546.8" y="385.4" width="4.4" height="4.4" fill="#FA6400" stroke="#3a1800" stroke-width="0.7"/>
<rect x="542.8" y="411.8" width="4.4" height="4.4" fill="#FA6400" stroke="#3a1800" stroke-width="0.7"/>
<rect x="550.2" y="415.2" width="4.4" height="4.4" fill="#FA6400" stroke="#3a1800" stroke-width="0.7"/>
<rect x="546.8" y="429.8" width="4.4" height="4.4" fill="#FA6400" stroke="#3a1800" stroke-width="0.7"/>
<path d="M567.4 404.3L569.6 408.5L565.1 408.5Z" fill="#0000F5"/>
<path d="M564.0 408.5L566.2 412.7L561.8 412.7Z" fill="#0000F5"/>
<path d="M571.0 408.5L573.2 412.7L568.8 412.7Z" fill="#0000F5"/>
<path d="M565.4 424.5L567.6 428.7L563.1 428.7Z" fill="#0000F5"/>
<path d="M569.4 424.5L571.6 428.7L567.1 428.7Z" fill="#0000F5"/>
<path d="M581.6 414.1L584.1 409.9L579.1 409.9Z" fill="#000"/>
<path d="M589.4 418.5L591.9 414.2L586.9 414.2Z" fill="#000"/>
<path d="M585.4 434.1L587.9 429.9L582.9 429.9Z" fill="#000"/>
<path d="M589.0 445.1L591.5 440.9L586.5 440.9Z" fill="#000"/>
<path d="M581.6 449.1L584.1 444.9L579.1 444.9Z" fill="#000"/>
<ellipse cx="616.0" cy="404.4" rx="2.35" ry="2.05" fill="#fff" stroke="#000" stroke-width="1"/>
<ellipse cx="616.0" cy="413.0" rx="2.35" ry="2.05" fill="#fff" stroke="#000" stroke-width="1"/>
<ellipse cx="616.0" cy="423.0" rx="2.35" ry="2.05" fill="#fff" stroke="#000" stroke-width="1"/>
<ellipse cx="616.0" cy="428.0" rx="2.35" ry="2.05" fill="#fff" stroke="#000" stroke-width="1"/>
<ellipse cx="616.0" cy="434.0" rx="2.35" ry="2.05" fill="#fff" stroke="#000" stroke-width="1"/>
<rect x="632.2" y="390.4" width="4.4" height="4.4" fill="#FA6400" stroke="#3a1800" stroke-width="0.7"/>
<rect x="628.2" y="417.2" width="4.4" height="4.4" fill="#FA6400" stroke="#3a1800" stroke-width="0.7"/>
<rect x="635.8" y="415.8" width="4.4" height="4.4" fill="#FA6400" stroke="#3a1800" stroke-width="0.7"/>
<rect x="632.2" y="423.8" width="4.4" height="4.4" fill="#FA6400" stroke="#3a1800" stroke-width="0.7"/>
<rect x="632.2" y="452.8" width="4.4" height="4.4" fill="#FA6400" stroke="#3a1800" stroke-width="0.7"/>
<path d="M652.6 409.9L654.9 414.1L650.4 414.1Z" fill="#0000F5"/>
<path d="M652.6 415.9L654.9 420.1L650.4 420.1Z" fill="#0000F5"/>
<path d="M649.0 421.3L651.2 425.5L646.8 425.5Z" fill="#0000F5"/>
<path d="M656.6 425.9L658.9 430.1L654.4 430.1Z" fill="#0000F5"/>
<path d="M652.6 432.3L654.9 436.5L650.4 436.5Z" fill="#0000F5"/>
<path d="M671.0 382.8L673.5 378.5L668.5 378.5Z" fill="#000"/>
<path d="M671.0 419.1L673.5 414.9L668.5 414.9Z" fill="#000"/>
<path d="M671.0 430.1L673.5 425.9L668.5 425.9Z" fill="#000"/>
<path d="M667.4 434.1L669.9 429.9L664.9 429.9Z" fill="#000"/>
<path d="M674.6 431.1L677.1 426.9L672.1 426.9Z" fill="#000"/>
<text transform="translate(512.40 486.70) scale(0.9434 1)" font-size="15.90" text-anchor="end">0</text>
<text transform="translate(512.40 462.72) scale(0.9434 1)" font-size="15.90" text-anchor="end">50</text>
<text transform="translate(512.40 438.74) scale(0.9434 1)" font-size="15.90" text-anchor="end">100</text>
<text transform="translate(512.40 414.77) scale(0.9434 1)" font-size="15.90" text-anchor="end">150</text>
<text transform="translate(512.40 390.79) scale(0.9434 1)" font-size="15.90" text-anchor="end">200</text>
<text transform="translate(558.00 501.30) scale(0.9434 1)" font-size="15.90" text-anchor="middle">2</text>
<text transform="translate(643.40 501.30) scale(0.9434 1)" font-size="15.90" text-anchor="middle">7</text>
<text transform="translate(601.15 521.90) scale(0.9615 1)" font-size="15.70" text-anchor="middle">Post-irradiation (days)</text>
<text transform="translate(601.00 347.30) scale(0.9615 1)" font-size="15.50" text-anchor="middle">IL-5</text>
<text transform="translate(525.00 365.20) scale(0.9615 1)" font-size="27.46">f</text>
<text transform="translate(479.50 422.25) rotate(-90) scale(0.9259 1)" font-size="16.52" text-anchor="middle">IL-5 pg/mL</text>
</g>
<g id="panel-g">
<ellipse cx="70.4" cy="666.0" rx="2.35" ry="2.05" fill="#fff" stroke="#000" stroke-width="1"/>
<ellipse cx="68.0" cy="671.0" rx="2.35" ry="2.05" fill="#fff" stroke="#000" stroke-width="1"/>
<ellipse cx="74.4" cy="671.4" rx="2.35" ry="2.05" fill="#fff" stroke="#000" stroke-width="1"/>
<ellipse cx="67.0" cy="674.0" rx="2.35" ry="2.05" fill="#fff" stroke="#000" stroke-width="1"/>
<ellipse cx="71.6" cy="673.0" rx="2.35" ry="2.05" fill="#fff" stroke="#000" stroke-width="1"/>
<rect x="86.8" y="642.2" width="4.4" height="4.4" fill="#FA6400" stroke="#3a1800" stroke-width="0.7"/>
<rect x="86.8" y="646.2" width="4.4" height="4.4" fill="#FA6400" stroke="#3a1800" stroke-width="0.7"/>
<rect x="86.8" y="669.8" width="4.4" height="4.4" fill="#FA6400" stroke="#3a1800" stroke-width="0.7"/>
<rect x="86.8" y="675.8" width="4.4" height="4.4" fill="#FA6400" stroke="#3a1800" stroke-width="0.7"/>
<rect x="86.8" y="690.4" width="4.4" height="4.4" fill="#FA6400" stroke="#3a1800" stroke-width="0.7"/>
<path d="M103.4 658.3L105.7 662.5L101.2 662.5Z" fill="#0000F5"/>
<path d="M111.4 661.9L113.7 666.1L109.2 666.1Z" fill="#0000F5"/>
<path d="M104.0 664.9L106.2 669.1L101.8 669.1Z" fill="#0000F5"/>
<path d="M107.4 677.3L109.7 681.5L105.2 681.5Z" fill="#0000F5"/>
<path d="M107.4 684.5L109.7 688.7L105.2 688.7Z" fill="#0000F5"/>
<path d="M125.4 672.5L127.9 668.2L122.9 668.2Z" fill="#000"/>
<path d="M130.0 686.1L132.5 681.9L127.5 681.9Z" fill="#000"/>
<path d="M121.4 690.5L123.9 686.2L118.9 686.2Z" fill="#000"/>
<path d="M123.0 710.1L125.5 705.9L120.5 705.9Z" fill="#000"/>
<path d="M129.0 707.1L131.5 702.9L126.5 702.9Z" fill="#000"/>
<ellipse cx="156.4" cy="653.0" rx="2.35" ry="2.05" fill="#fff" stroke="#000" stroke-width="1"/>
<ellipse cx="156.4" cy="668.6" rx="2.35" ry="2.05" fill="#fff" stroke="#000" stroke-width="1"/>
<ellipse cx="156.4" cy="677.4" rx="2.35" ry="2.05" fill="#fff" stroke="#000" stroke-width="1"/>
<ellipse cx="156.4" cy="687.0" rx="2.35" ry="2.05" fill="#fff" stroke="#000" stroke-width="1"/>
<ellipse cx="156.4" cy="698.4" rx="2.35" ry="2.05" fill="#fff" stroke="#000" stroke-width="1"/>
<rect x="172.4" y="648.2" width="4.4" height="4.4" fill="#FA6400" stroke="#3a1800" stroke-width="0.7"/>
<rect x="176.4" y="676.2" width="4.4" height="4.4" fill="#FA6400" stroke="#3a1800" stroke-width="0.7"/>
<rect x="168.4" y="680.8" width="4.4" height="4.4" fill="#FA6400" stroke="#3a1800" stroke-width="0.7"/>
<rect x="172.4" y="690.4" width="4.4" height="4.4" fill="#FA6400" stroke="#3a1800" stroke-width="0.7"/>
<rect x="172.4" y="708.2" width="4.4" height="4.4" fill="#FA6400" stroke="#3a1800" stroke-width="0.7"/>
<path d="M189.0 668.5L191.2 672.7L186.8 672.7Z" fill="#0000F5"/>
<path d="M197.0 672.9L199.2 677.1L194.8 677.1Z" fill="#0000F5"/>
<path d="M189.0 681.5L191.2 685.7L186.8 685.7Z" fill="#0000F5"/>
<path d="M197.0 683.9L199.2 688.1L194.8 688.1Z" fill="#0000F5"/>
<path d="M193.0 697.9L195.2 702.1L190.8 702.1Z" fill="#0000F5"/>
<path d="M211.4 645.1L213.9 640.9L208.9 640.9Z" fill="#000"/>
<path d="M211.4 672.1L213.9 667.9L208.9 667.9Z" fill="#000"/>
<path d="M211.4 689.5L213.9 685.2L208.9 685.2Z" fill="#000"/>
<path d="M208.0 696.1L210.5 691.9L205.5 691.9Z" fill="#000"/>
<path d="M215.0 695.8L217.5 691.5L212.5 691.5Z" fill="#000"/>
<text transform="translate(52.80 752.10) scale(0.9434 1)" font-size="15.90" text-anchor="end">0</text>
<text transform="translate(52.80 724.52) scale(0.9434 1)" font-size="15.90" text-anchor="end">1000</text>
<text transform="translate(52.80 696.95) scale(0.9434 1)" font-size="15.90" text-anchor="end">2000</text>
<text transform="translate(52.80 669.38) scale(0.9434 1)" font-size="15.90" text-anchor="end">3000</text>
<text transform="translate(52.80 641.80) scale(0.9434 1)" font-size="15.90" text-anchor="end">4000</text>
<text transform="translate(98.60 766.70) scale(0.9434 1)" font-size="15.90" text-anchor="middle">2</text>
<text transform="translate(184.20 766.70) scale(0.9434 1)" font-size="15.90" text-anchor="middle">7</text>
<text transform="translate(140.95 787.30) scale(0.9615 1)" font-size="15.70" text-anchor="middle">Post-irradiation (days)</text>
<text transform="translate(141.40 613.30) scale(0.9615 1)" font-size="15.50" text-anchor="middle">IL-6</text>
<text transform="translate(59.00 631.00) scale(0.9615 1)" font-size="27.46">g</text>
<text transform="translate(12.20 687.65) rotate(-90) scale(0.9259 1)" font-size="16.52" text-anchor="middle">IL-6 pg/mL</text>
</g>
<g id="panel-h">
<ellipse cx="293.0" cy="673.6" rx="2.35" ry="2.05" fill="#fff" stroke="#000" stroke-width="1"/>
<ellipse cx="289.4" cy="718.0" rx="2.35" ry="2.05" fill="#fff" stroke="#000" stroke-width="1"/>
<ellipse cx="294.0" cy="716.6" rx="2.35" ry="2.05" fill="#fff" stroke="#000" stroke-width="1"/>
<ellipse cx="297.0" cy="720.0" rx="2.35" ry="2.05" fill="#fff" stroke="#000" stroke-width="1"/>
<ellipse cx="293.0" cy="729.4" rx="2.35" ry="2.05" fill="#fff" stroke="#000" stroke-width="1"/>
<rect x="309.2" y="678.4" width="4.4" height="4.4" fill="#FA6400" stroke="#3a1800" stroke-width="0.7"/>
<rect x="309.2" y="687.4" width="4.4" height="4.4" fill="#FA6400" stroke="#3a1800" stroke-width="0.7"/>
<rect x="305.4" y="697.8" width="4.4" height="4.4" fill="#FA6400" stroke="#3a1800" stroke-width="0.7"/>
<rect x="312.8" y="700.4" width="4.4" height="4.4" fill="#FA6400" stroke="#3a1800" stroke-width="0.7"/>
<rect x="309.2" y="707.8" width="4.4" height="4.4" fill="#FA6400" stroke="#3a1800" stroke-width="0.7"/>
<path d="M329.4 689.9L331.6 694.1L327.1 694.1Z" fill="#0000F5"/>
<path d="M329.4 695.9L331.6 700.1L327.1 700.1Z" fill="#0000F5"/>
<path d="M325.6 702.5L327.9 706.7L323.4 706.7Z" fill="#0000F5"/>
<path d="M333.6 702.5L335.9 706.7L331.4 706.7Z" fill="#0000F5"/>
<path d="M329.4 708.9L331.6 713.1L327.1 713.1Z" fill="#0000F5"/>
<path d="M344.4 699.5L346.9 695.2L341.9 695.2Z" fill="#000"/>
<path d="M351.6 701.5L354.1 697.2L349.1 697.2Z" fill="#000"/>
<path d="M348.0 705.5L350.5 701.2L345.5 701.2Z" fill="#000"/>
<path d="M345.0 708.1L347.5 703.9L342.5 703.9Z" fill="#000"/>
<path d="M351.6 708.1L354.1 703.9L349.1 703.9Z" fill="#000"/>
<ellipse cx="378.4" cy="689.4" rx="2.35" ry="2.05" fill="#fff" stroke="#000" stroke-width="1"/>
<ellipse cx="378.4" cy="705.4" rx="2.35" ry="2.05" fill="#fff" stroke="#000" stroke-width="1"/>
<ellipse cx="378.4" cy="719.0" rx="2.35" ry="2.05" fill="#fff" stroke="#000" stroke-width="1"/>
<ellipse cx="374.4" cy="722.4" rx="2.35" ry="2.05" fill="#fff" stroke="#000" stroke-width="1"/>
<ellipse cx="382.4" cy="720.0" rx="2.35" ry="2.05" fill="#fff" stroke="#000" stroke-width="1"/>
<rect x="394.2" y="645.2" width="4.4" height="4.4" fill="#FA6400" stroke="#3a1800" stroke-width="0.7"/>
<rect x="394.2" y="657.4" width="4.4" height="4.4" fill="#FA6400" stroke="#3a1800" stroke-width="0.7"/>
<rect x="390.4" y="677.2" width="4.4" height="4.4" fill="#FA6400" stroke="#3a1800" stroke-width="0.7"/>
<rect x="398.2" y="678.8" width="4.4" height="4.4" fill="#FA6400" stroke="#3a1800" stroke-width="0.7"/>
<rect x="394.2" y="722.8" width="4.4" height="4.4" fill="#FA6400" stroke="#3a1800" stroke-width="0.7"/>
<path d="M415.0 679.9L417.2 684.1L412.8 684.1Z" fill="#0000F5"/>
<path d="M415.0 689.3L417.2 693.5L412.8 693.5Z" fill="#0000F5"/>
<path d="M411.6 697.3L413.9 701.5L409.4 701.5Z" fill="#0000F5"/>
<path d="M418.6 698.3L420.9 702.5L416.4 702.5Z" fill="#0000F5"/>
<path d="M415.0 706.3L417.2 710.5L412.8 710.5Z" fill="#0000F5"/>
<path d="M433.0 678.1L435.5 673.9L430.5 673.9Z" fill="#000"/>
<path d="M429.6 684.8L432.1 680.5L427.1 680.5Z" fill="#000"/>
<path d="M437.0 684.8L439.5 680.5L434.5 680.5Z" fill="#000"/>
<path d="M429.6 700.1L432.1 695.9L427.1 695.9Z" fill="#000"/>
<path d="M437.0 699.1L439.5 694.9L434.5 694.9Z" fill="#000"/>
<text transform="translate(275.30 756.60) scale(0.9434 1)" font-size="15.90" text-anchor="end">0</text>
<text transform="translate(275.30 739.65) scale(0.9434 1)" font-size="15.90" text-anchor="end">10</text>
<text transform="translate(275.30 722.70) scale(0.9434 1)" font-size="15.90" text-anchor="end">20</text>
<text transform="translate(275.30 705.75) scale(0.9434 1)" font-size="15.90" text-anchor="end">30</text>
<text transform="translate(275.30 688.80) scale(0.9434 1)" font-size="15.90" text-anchor="end">40</text>
<text transform="translate(275.30 671.85) scale(0.9434 1)" font-size="15.90" text-anchor="end">50</text>
<text transform="translate(275.30 654.89) scale(0.9434 1)" font-size="15.90" text-anchor="end">60</text>
<text transform="translate(320.60 770.70) scale(0.8929 1)" font-size="16.80" text-anchor="middle">2</text>
<text transform="translate(405.60 770.70) scale(0.8929 1)" font-size="16.80" text-anchor="middle">7</text>
<text transform="translate(363.65 791.30) scale(0.9615 1)" font-size="15.70" text-anchor="middle">Post-irradiation (days)</text>
<text transform="translate(363.00 617.30) scale(0.9615 1)" font-size="15.50" text-anchor="middle">KCGRO</text>
<text transform="translate(283.00 633.80) scale(0.9615 1)" font-size="27.46">h</text>
<text transform="translate(252.00 691.75) rotate(-90) scale(0.9259 1)" font-size="16.36" text-anchor="middle">KCGRO pg/mL</text>
<text transform="translate(312.30 674.40) scale(1.0000 1)" font-size="22.50" text-anchor="middle" stroke="#000" stroke-width="0.85">#</text>
<text transform="translate(391.20 649.90) scale(1.0000 1)" font-size="32.00" text-anchor="middle">*</text>
<text transform="translate(407.20 644.50) scale(1.0000 1)" font-size="22.50" text-anchor="middle" stroke="#000" stroke-width="0.85">#</text>
<text transform="translate(434.00 674.50) scale(1.0000 1)" font-size="32.00" text-anchor="middle">*</text>
</g>
<g id="panel-i">
<ellipse cx="526.4" cy="672.6" rx="2.35" ry="2.05" fill="#fff" stroke="#000" stroke-width="1"/>
<ellipse cx="523.0" cy="695.4" rx="2.35" ry="2.05" fill="#fff" stroke="#000" stroke-width="1"/>
<ellipse cx="530.4" cy="695.4" rx="2.35" ry="2.05" fill="#fff" stroke="#000" stroke-width="1"/>
<ellipse cx="526.4" cy="699.0" rx="2.35" ry="2.05" fill="#fff" stroke="#000" stroke-width="1"/>
<ellipse cx="526.4" cy="702.6" rx="2.35" ry="2.05" fill="#fff" stroke="#000" stroke-width="1"/>
<rect x="542.4" y="646.8" width="4.4" height="4.4" fill="#FA6400" stroke="#3a1800" stroke-width="0.7"/>
<rect x="542.4" y="662.2" width="4.4" height="4.4" fill="#FA6400" stroke="#3a1800" stroke-width="0.7"/>
<rect x="542.4" y="679.8" width="4.4" height="4.4" fill="#FA6400" stroke="#3a1800" stroke-width="0.7"/>
<rect x="538.8" y="683.4" width="4.4" height="4.4" fill="#FA6400" stroke="#3a1800" stroke-width="0.7"/>
<rect x="546.4" y="683.4" width="4.4" height="4.4" fill="#FA6400" stroke="#3a1800" stroke-width="0.7"/>
<path d="M559.4 668.7L561.6 672.9L557.1 672.9Z" fill="#0000F5"/>
<path d="M567.0 669.3L569.2 673.5L564.8 673.5Z" fill="#0000F5"/>
<path d="M563.4 674.5L565.6 678.7L561.1 678.7Z" fill="#0000F5"/>
<path d="M559.4 693.9L561.6 698.1L557.1 698.1Z" fill="#0000F5"/>
<path d="M567.0 691.1L569.2 695.3L564.8 695.3Z" fill="#0000F5"/>
<path d="M577.6 690.1L580.1 685.9L575.1 685.9Z" fill="#000"/>
<path d="M582.4 694.1L584.9 689.9L579.9 689.9Z" fill="#000"/>
<path d="M578.0 701.8L580.5 697.5L575.5 697.5Z" fill="#000"/>
<path d="M582.0 701.8L584.5 697.5L579.5 697.5Z" fill="#000"/>
<path d="M586.0 701.1L588.5 696.9L583.5 696.9Z" fill="#000"/>
<ellipse cx="612.0" cy="694.6" rx="2.35" ry="2.05" fill="#fff" stroke="#000" stroke-width="1"/>
<ellipse cx="608.0" cy="705.0" rx="2.35" ry="2.05" fill="#fff" stroke="#000" stroke-width="1"/>
<ellipse cx="612.0" cy="705.4" rx="2.35" ry="2.05" fill="#fff" stroke="#000" stroke-width="1"/>
<ellipse cx="616.0" cy="705.4" rx="2.35" ry="2.05" fill="#fff" stroke="#000" stroke-width="1"/>
<ellipse cx="612.0" cy="712.6" rx="2.35" ry="2.05" fill="#fff" stroke="#000" stroke-width="1"/>
<rect x="628.2" y="687.8" width="4.4" height="4.4" fill="#FA6400" stroke="#3a1800" stroke-width="0.7"/>
<rect x="624.4" y="704.4" width="4.4" height="4.4" fill="#FA6400" stroke="#3a1800" stroke-width="0.7"/>
<rect x="632.2" y="706.2" width="4.4" height="4.4" fill="#FA6400" stroke="#3a1800" stroke-width="0.7"/>
<rect x="628.2" y="708.4" width="4.4" height="4.4" fill="#FA6400" stroke="#3a1800" stroke-width="0.7"/>
<rect x="628.2" y="715.8" width="4.4" height="4.4" fill="#FA6400" stroke="#3a1800" stroke-width="0.7"/>
<path d="M652.6 694.5L654.9 698.7L650.4 698.7Z" fill="#0000F5"/>
<path d="M651.0 697.5L653.2 701.7L648.8 701.7Z" fill="#0000F5"/>
<path d="M648.0 698.9L650.2 703.1L645.8 703.1Z" fill="#0000F5"/>
<path d="M652.4 698.9L654.6 703.1L650.1 703.1Z" fill="#0000F5"/>
<path d="M649.0 711.9L651.2 716.1L646.8 716.1Z" fill="#0000F5"/>
<path d="M667.0 692.8L669.5 688.5L664.5 688.5Z" fill="#000"/>
<path d="M671.0 699.5L673.5 695.2L668.5 695.2Z" fill="#000"/>
<path d="M667.0 704.1L669.5 699.9L664.5 699.9Z" fill="#000"/>
<path d="M664.0 708.1L666.5 703.9L661.5 703.9Z" fill="#000"/>
<path d="M670.4 707.5L672.9 703.2L667.9 703.2Z" fill="#000"/>
<text transform="translate(508.50 752.10) scale(0.9434 1)" font-size="15.90" text-anchor="end">0</text>
<text transform="translate(508.50 724.52) scale(0.9434 1)" font-size="15.90" text-anchor="end">5</text>
<text transform="translate(508.50 696.95) scale(0.9434 1)" font-size="15.90" text-anchor="end">10</text>
<text transform="translate(508.50 669.38) scale(0.9434 1)" font-size="15.90" text-anchor="end">15</text>
<text transform="translate(508.50 641.80) scale(0.9434 1)" font-size="15.90" text-anchor="end">20</text>
<text transform="translate(553.60 766.70) scale(0.9434 1)" font-size="15.90" text-anchor="middle">2</text>
<text transform="translate(639.40 766.70) scale(0.9434 1)" font-size="15.90" text-anchor="middle">7</text>
<text transform="translate(597.15 787.30) scale(0.9615 1)" font-size="15.70" text-anchor="middle">Post-irradiation (days)</text>
<text transform="translate(597.00 611.80) scale(0.9615 1)" font-size="15.50" text-anchor="middle">TNF-a</text>
<text transform="translate(518.00 632.00) scale(0.9615 1)" font-size="27.46">i</text>
<text transform="translate(484.80 687.65) rotate(-90) scale(0.9259 1)" font-size="16.52" text-anchor="middle">TNF-a pg/mL</text>
<text transform="translate(541.50 650.30) scale(1.0000 1)" font-size="32.00" text-anchor="middle">*</text>
<text transform="translate(555.00 646.00) scale(1.0000 1)" font-size="22.50" text-anchor="middle" stroke="#000" stroke-width="0.85">#</text>
<text transform="translate(566.10 664.80) scale(1.0000 1)" font-size="22.50" text-anchor="middle" stroke="#000" stroke-width="0.85">#</text>
</g>
<g id="legend">
<path d="M123.5 841.0H144.8" stroke="#000" stroke-width="2.1"/><circle cx="134.3" cy="841.2" r="6.2" fill="#fff" stroke="#000" stroke-width="2.3"/>
<text transform="translate(153.60 848.40) scale(1.0000 1)" font-size="19.30">Sham</text>
<path d="M222.7 841.0H243.9" stroke="#F26A00" stroke-width="1.6"/><rect x="226.5" y="834.3" width="14.6" height="13.6" fill="#F96400" stroke="#1a0c00" stroke-width="1.3"/>
<text transform="translate(254.00 848.40) scale(1.0000 1)" font-size="19.30">FLASH-95</text>
<path d="M360.2 841.0H381.8" stroke="#0000F5" stroke-width="2"/><path d="M370.5 834.1L377.8 848.2L363.2 848.2Z" fill="#0000F5"/>
<text transform="translate(391.40 848.40) scale(1.0000 1)" font-size="19.30">FLASH-60</text>
<path d="M510.4 841.0H532" stroke="#000" stroke-width="2"/><path d="M521.3 847.8L528.6 834.4L514 834.4Z" fill="#000"/>
<text transform="translate(541.00 848.40) scale(1.0000 1)" font-size="19.30">CV</text>
</g>
</g>
<g id="axes">
<path d="M51.50 80.70V192.00M51.00 191.50H216.8" stroke="#000" stroke-width="1.05" fill="none"/>
<path d="M46.10 191.50H51.50" stroke="#000" stroke-width="1.0"/>
<path d="M46.10 154.73H51.50" stroke="#000" stroke-width="1.0"/>
<path d="M46.10 117.97H51.50" stroke="#000" stroke-width="1.0"/>
<path d="M46.10 81.20H51.50" stroke="#000" stroke-width="1.0"/>
<path d="M90.40 191.50V196.70" stroke="#000" stroke-width="1.0"/>
<path d="M176.20 191.50V196.70" stroke="#000" stroke-width="1.0"/>
<path d="M283.70 78.35V189.65M283.20 189.15H449.8" stroke="#000" stroke-width="1.05" fill="none"/>
<path d="M279.10 189.15H283.70" stroke="#000" stroke-width="1.0"/>
<path d="M279.10 161.57H283.70" stroke="#000" stroke-width="1.0"/>
<path d="M279.10 134.00H283.70" stroke="#000" stroke-width="1.0"/>
<path d="M279.10 106.43H283.70" stroke="#000" stroke-width="1.0"/>
<path d="M279.10 78.85H283.70" stroke="#000" stroke-width="1.0"/>
<path d="M323.60 189.15V194.35" stroke="#000" stroke-width="1.0"/>
<path d="M409.40 189.15V194.35" stroke="#000" stroke-width="1.0"/>
<path d="M514.50 78.35V189.65M514.00 189.15H680.6" stroke="#000" stroke-width="1.05" fill="none"/>
<path d="M509.10 189.15H514.50" stroke="#000" stroke-width="1.0"/>
<path d="M509.10 161.58H514.50" stroke="#000" stroke-width="1.0"/>
<path d="M509.10 134.00H514.50" stroke="#000" stroke-width="1.0"/>
<path d="M509.10 106.42H514.50" stroke="#000" stroke-width="1.0"/>
<path d="M509.10 78.85H514.50" stroke="#000" stroke-width="1.0"/>
<path d="M553.40 189.15V194.35" stroke="#000" stroke-width="1.0"/>
<path d="M639.40 189.15V194.35" stroke="#000" stroke-width="1.0"/>
<path d="M51.50 368.00V479.00M51.00 478.50H217.6" stroke="#000" stroke-width="1.05" fill="none"/>
<path d="M46.90 478.50H51.50" stroke="#000" stroke-width="1.0"/>
<path d="M46.90 451.00H51.50" stroke="#000" stroke-width="1.0"/>
<path d="M46.90 423.50H51.50" stroke="#000" stroke-width="1.0"/>
<path d="M46.90 396.00H51.50" stroke="#000" stroke-width="1.0"/>
<path d="M46.90 368.50H51.50" stroke="#000" stroke-width="1.0"/>
<path d="M90.40 478.50V483.70" stroke="#000" stroke-width="1.0"/>
<path d="M176.20 478.50V483.70" stroke="#000" stroke-width="1.0"/>
<path d="M276.30 368.00V479.00M275.80 478.50H440.8" stroke="#000" stroke-width="1.05" fill="none"/>
<path d="M270.90 478.50H276.30" stroke="#000" stroke-width="1.0"/>
<path d="M270.90 456.50H276.30" stroke="#000" stroke-width="1.0"/>
<path d="M270.90 434.50H276.30" stroke="#000" stroke-width="1.0"/>
<path d="M270.90 412.50H276.30" stroke="#000" stroke-width="1.0"/>
<path d="M270.90 390.50H276.30" stroke="#000" stroke-width="1.0"/>
<path d="M270.90 368.50H276.30" stroke="#000" stroke-width="1.0"/>
<path d="M315.00 478.50V483.70" stroke="#000" stroke-width="1.0"/>
<path d="M401.00 478.50V483.70" stroke="#000" stroke-width="1.0"/>
<path d="M517.90 370.30V481.60M517.40 481.10H684.0" stroke="#000" stroke-width="1.05" fill="none"/>
<path d="M513.00 481.10H517.90" stroke="#000" stroke-width="1.0"/>
<path d="M513.00 457.12H517.90" stroke="#000" stroke-width="1.0"/>
<path d="M513.00 433.14H517.90" stroke="#000" stroke-width="1.0"/>
<path d="M513.00 409.17H517.90" stroke="#000" stroke-width="1.0"/>
<path d="M513.00 385.19H517.90" stroke="#000" stroke-width="1.0"/>
<path d="M558.00 481.10V486.30" stroke="#000" stroke-width="1.0"/>
<path d="M643.40 481.10V486.30" stroke="#000" stroke-width="1.0"/>
<path d="M58.50 635.70V747.00M58.00 746.50H224.2" stroke="#000" stroke-width="1.05" fill="none"/>
<path d="M53.90 746.50H58.50" stroke="#000" stroke-width="1.0"/>
<path d="M53.90 718.92H58.50" stroke="#000" stroke-width="1.0"/>
<path d="M53.90 691.35H58.50" stroke="#000" stroke-width="1.0"/>
<path d="M53.90 663.78H58.50" stroke="#000" stroke-width="1.0"/>
<path d="M53.90 636.20H58.50" stroke="#000" stroke-width="1.0"/>
<path d="M98.60 746.50V751.70" stroke="#000" stroke-width="1.0"/>
<path d="M184.20 746.50V751.70" stroke="#000" stroke-width="1.0"/>
<path d="M280.50 640.20V751.50M280.00 751.00H446.2" stroke="#000" stroke-width="1.05" fill="none"/>
<path d="M275.90 751.00H280.50" stroke="#000" stroke-width="1.0"/>
<path d="M275.90 734.05H280.50" stroke="#000" stroke-width="1.0"/>
<path d="M275.90 717.10H280.50" stroke="#000" stroke-width="1.0"/>
<path d="M275.90 700.15H280.50" stroke="#000" stroke-width="1.0"/>
<path d="M275.90 683.20H280.50" stroke="#000" stroke-width="1.0"/>
<path d="M275.90 666.25H280.50" stroke="#000" stroke-width="1.0"/>
<path d="M275.90 649.29H280.50" stroke="#000" stroke-width="1.0"/>
<path d="M320.60 751.00V756.20" stroke="#000" stroke-width="1.0"/>
<path d="M405.60 751.00V756.20" stroke="#000" stroke-width="1.0"/>
<path d="M514.50 635.70V747.00M514.00 746.50H680.6" stroke="#000" stroke-width="1.05" fill="none"/>
<path d="M509.10 746.50H514.50" stroke="#000" stroke-width="1.0"/>
<path d="M509.10 718.92H514.50" stroke="#000" stroke-width="1.0"/>
<path d="M509.10 691.35H514.50" stroke="#000" stroke-width="1.0"/>
<path d="M509.10 663.78H514.50" stroke="#000" stroke-width="1.0"/>
<path d="M509.10 636.20H514.50" stroke="#000" stroke-width="1.0"/>
<path d="M553.60 746.50V751.70" stroke="#000" stroke-width="1.0"/>
<path d="M639.40 746.50V751.70" stroke="#000" stroke-width="1.0"/>
</g>
</svg>
</body></html>
